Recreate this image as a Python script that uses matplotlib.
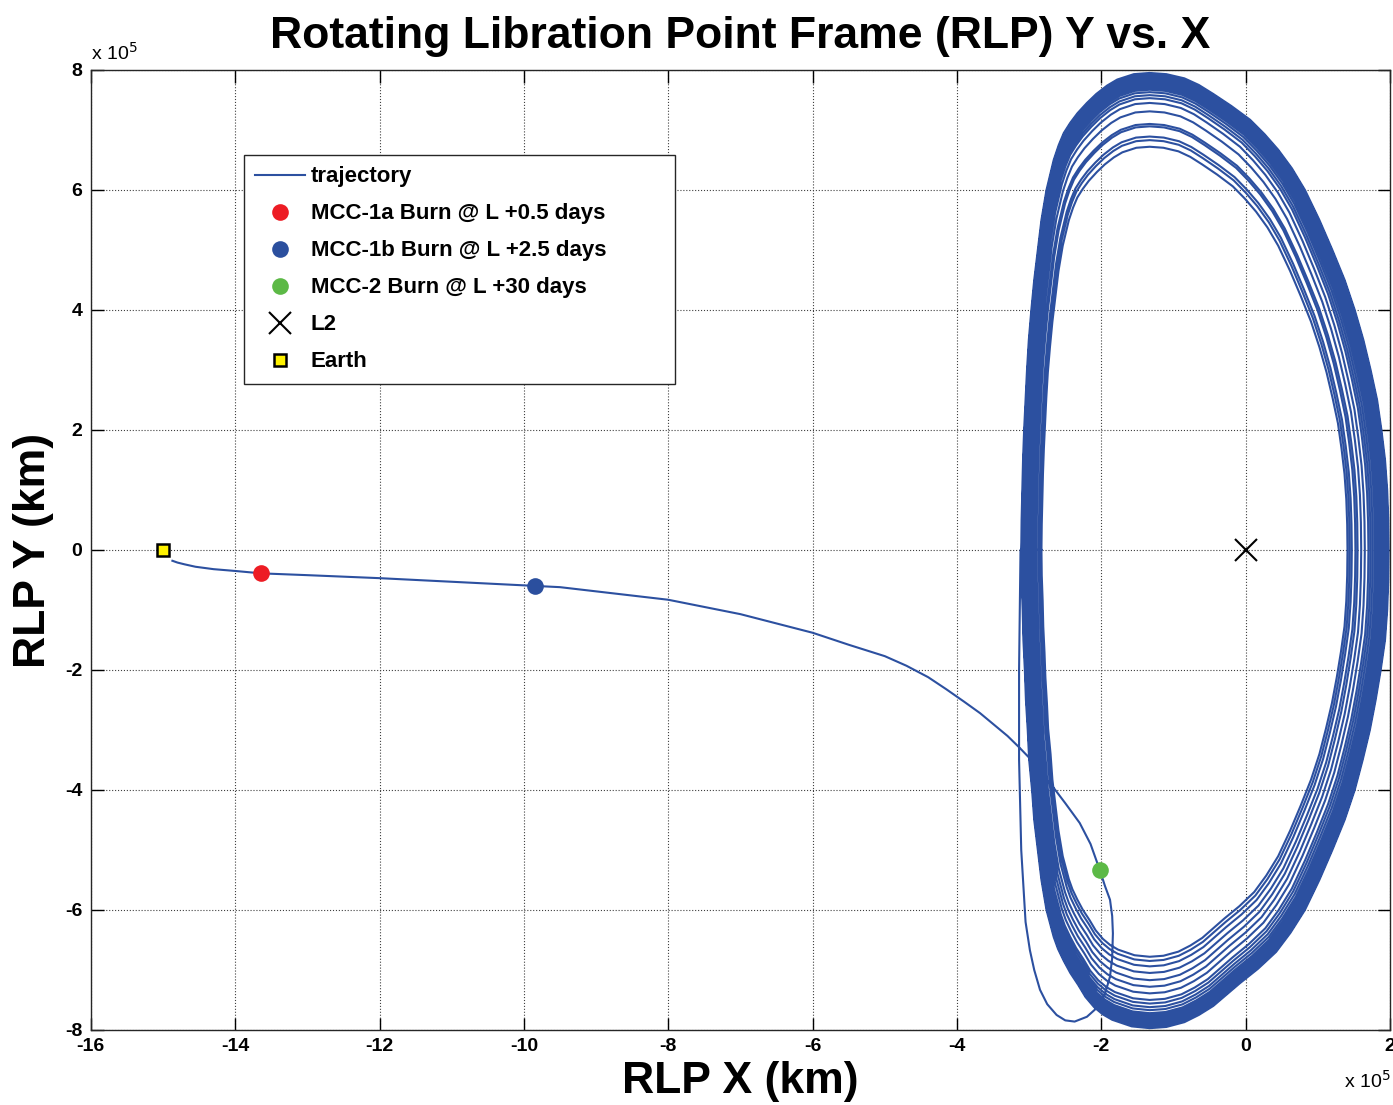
import numpy as np
import matplotlib
matplotlib.use('Agg')
import matplotlib.pyplot as plt

# all positions in units of 1e5 km
# transfer leg, Earth -> halo insertion
transfer_x = [-14.87, -14.8, -14.7, -14.55, -14.3, -14.0, -13.64, -13.0, -12.0, -11.0, -9.85,
              -9.5, -9.0, -8.0, -7.0, -6.0, -5.5, -5.0, -4.7, -4.4, -4.15,
              -3.9, -3.68, -3.5, -3.3, -3.13, -2.97, -2.85, -2.67, -2.5, -2.3,
              -2.15, -2.02, -1.95, -1.88, -1.85, -1.84, -1.85, -1.88, -1.95, -2.07,
              -2.2, -2.37, -2.5, -2.62, -2.75, -2.85, -2.93, -2.99, -3.05, -3.11,
              -3.14, -3.14, -3.13, -3.12]
transfer_y = [-0.18, -0.21, -0.24, -0.28, -0.32, -0.35, -0.39, -0.42, -0.47, -0.53, -0.60,
              -0.62, -0.69, -0.83, -1.07, -1.38, -1.58, -1.77, -1.93, -2.12, -2.32,
              -2.53, -2.72, -2.9, -3.1, -3.3, -3.5, -3.72, -3.95, -4.22, -4.55,
              -4.9, -5.34, -5.6, -5.83, -6.1, -6.39, -6.8, -7.11, -7.4, -7.64,
              -7.78, -7.86, -7.84, -7.75, -7.57, -7.33, -7.0, -6.67, -6.2, -5.0,
              -3.5, -2.0, -1.0, 0.0]

# outermost halo revolution, traced clockwise from the left side
base_x = [-3.11, -3.105, -3.095, -3.085, -3.07, -3.05, -3.03, -3.005, -2.97, -2.93,
          -2.88, -2.83, -2.76, -2.66, -2.59, -2.52, -2.43, -2.33, -2.2, -2.07,
          -1.92, -1.78, -1.55, -1.33, -1.10, -0.85, -0.65, -0.45, -0.2, 0.06,
          0.26, 0.45, 0.64, 0.82, 1.02, 1.20, 1.37, 1.51, 1.63, 1.73,
          1.82, 1.88, 1.93, 1.96, 1.975, 1.98,
          1.975, 1.96, 1.93, 1.87, 1.80, 1.72, 1.62, 1.51, 1.37, 1.20,
          1.02, 0.82, 0.62, 0.42, 0.17, -0.08, -0.45, -0.65, -0.85, -1.10,
          -1.33, -1.58, -1.85, -1.98, -2.10, -2.22, -2.32, -2.43, -2.52, -2.60,
          -2.66, -2.76, -2.83, -2.88, -2.93, -2.96, -3.0, -3.02, -3.045, -3.06,
          -3.08, -3.09, -3.105, -3.11]
base_y = [0.0, 0.5, 1.0, 1.5, 2.0, 2.5, 3.0, 3.5, 4.0, 4.5,
          5.0, 5.5, 6.0, 6.5, 6.75, 6.95, 7.12, 7.28, 7.45, 7.6,
          7.74, 7.84, 7.93, 7.95, 7.93, 7.86, 7.75, 7.6, 7.4, 7.17,
          6.93, 6.67, 6.36, 6.0, 5.5, 5.0, 4.5, 4.0, 3.5, 3.0,
          2.5, 2.0, 1.5, 1.0, 0.5, 0.0,
          -0.5, -1.0, -1.5, -2.0, -2.5, -3.0, -3.5, -4.0, -4.5, -5.0,
          -5.5, -6.0, -6.38, -6.7, -6.98, -7.22, -7.6, -7.75, -7.87, -7.95,
          -7.97, -7.94, -7.83, -7.74, -7.62, -7.45, -7.25, -7.05, -6.85, -6.65,
          -6.45, -6.0, -5.5, -5.0, -4.5, -4.0, -3.5, -3.0, -2.5, -2.0,
          -1.5, -1.0, -0.5, 0.0]

# extents of each revolution
loop_top = [7.95, 7.93, 7.92, 7.90, 7.89, 7.87, 7.85, 7.83, 7.81, 7.78, 7.75, 7.73,
            7.70, 7.67, 7.63, 7.58, 7.53, 7.45, 7.31, 7.10, 7.06, 6.89, 6.83, 6.72]
loop_bottom = [-7.97, -7.95, -7.93, -7.92, -7.90, -7.88, -7.86, -7.84, -7.82, -7.80, -7.78, -7.75,
               -7.72, -7.67, -7.62, -7.56, -7.50, -7.39, -7.28, -7.17, -7.05, -6.94, -6.85, -6.78]
loop_left = [-3.11, -3.10, -3.10, -3.09, -3.08, -3.08, -3.07, -3.06, -3.05, -3.05, -3.04, -3.03,
             -3.02, -3.01, -3.00, -2.99, -2.98, -2.96, -2.94, -2.92, -2.90, -2.87, -2.85, -2.83]
loop_right = [1.98, 1.97, 1.96, 1.95, 1.94, 1.93, 1.92, 1.90, 1.89, 1.87, 1.85, 1.83,
              1.81, 1.79, 1.76, 1.73, 1.70, 1.65, 1.60, 1.55, 1.52, 1.47, 1.44, 1.41]
peak_x = -1.33

burn_1a = (-13.64, -0.39)
burn_1b = (-9.85, -0.60)
burn_2 = (-2.02, -5.34)
l2_pt = (0.0, 0.0)
earth_pt = (-15.0, 0.0)

xticks = [-16, -14, -12, -10, -8, -6, -4, -2, 0, 2]
yticks = [-8, -6, -4, -2, 0, 2, 4, 6, 8]

line_col = '#2c50a0'

# build the full track
bx = np.array(base_x)
by = np.array(base_y)
trk_x = list(transfer_x)
trk_y = list(transfer_y)
for T, B, L, R in zip(loop_top, loop_bottom, loop_left, loop_right):
    lx = np.where(bx < peak_x,
                  peak_x + (bx - peak_x) * (L - peak_x) / (min(base_x) - peak_x),
                  peak_x + (bx - peak_x) * (R - peak_x) / (max(base_x) - peak_x))
    ly = np.where(by >= 0, by * T / max(base_y), by * B / min(base_y))
    trk_x += list(lx)
    trk_y += list(ly)

plt.rcParams['font.family'] = ['Liberation Sans', 'DejaVu Sans']

fig = plt.figure(figsize=(13.93, 11.05), dpi=100)
ax = fig.add_axes([0.0652, 0.0679, 0.9327, 0.8688])

ax.plot(trk_x, trk_y, color=line_col, lw=1.5, label='trajectory', zorder=2)
ax.plot(*burn_1a, 'o', color='#ed1c24', ms=12, mec='none', label='MCC-1a Burn @ L +0.5 days', zorder=3)
ax.plot(*burn_1b, 'o', color='#2b4f9e', ms=12, mec='none', label='MCC-1b Burn @ L +2.5 days', zorder=3)
ax.plot(*burn_2, 'o', color='#5cb946', ms=12, mec='none', label='MCC-2 Burn @ L +30 days', zorder=3)
ax.plot(*l2_pt, 'x', color='black', ms=16, mew=1.5, label='L2', zorder=3)
ax.plot(*earth_pt, 's', color='#fff200', mec='black', mew=1.8, ms=8, label='Earth', zorder=3)

ax.set_xlim(-16, 2)
ax.set_ylim(-8, 8)
ax.set_xticks(xticks)
ax.set_yticks(yticks)
ax.set_xticklabels([str(t) for t in xticks])
ax.set_yticklabels([str(t) for t in yticks])
ax.tick_params(direction='in', length=9, width=1, top=True, right=True, labelsize=14, pad=6)
for lab in ax.get_xticklabels() + ax.get_yticklabels():
    lab.set_fontweight('bold')
ax.grid(True, ls=':', lw=0.8, color='0.25')
for sp in ax.spines.values():
    sp.set_linewidth(1.0)
    sp.set_color('0.15')

ax.set_title('Rotating Libration Point Frame (RLP) Y vs. X', fontsize=32, fontweight='bold', pad=16)
ax.set_xlabel('RLP X (km)', fontsize=32, fontweight='bold', labelpad=4)
ax.set_ylabel('RLP Y (km)', fontsize=32, fontweight='bold', labelpad=8)

ax.text(0.0, 1.006, r'x 10$^5$', transform=ax.transAxes, fontsize=14, va='bottom', ha='left')
ax.text(1.0, -0.042, r'x 10$^5$', transform=ax.transAxes, fontsize=14, va='top', ha='right')

leg = ax.legend(loc='upper left', bbox_to_anchor=(0.118, 0.680, 0.3317, 0.231), mode='expand',
                borderaxespad=0, prop={'weight': 'bold', 'size': 16}, fancybox=False,
                framealpha=1, edgecolor='0.15', handlelength=2.25, handletextpad=0.25,
                labelspacing=0.72, borderpad=0.5, numpoints=1)
leg.get_frame().set_linewidth(1.0)

fig.savefig('out.png', dpi=100)
